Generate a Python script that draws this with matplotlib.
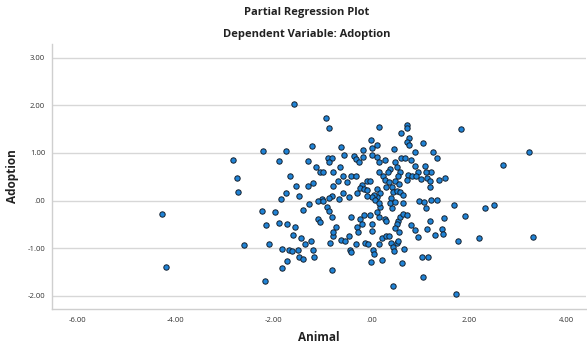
import matplotlib
matplotlib.use("Agg")
import matplotlib.pyplot as plt
from matplotlib.ticker import FixedLocator, FixedFormatter

# Partial regression residuals: Animal (x) vs Adoption (y)
animal = [
    -1.58, -2.22, -1.74, -2.82, -1.89, -2.75, -1.66, -2.73, -1.54, -1.75,
    -1.85, -1.48, -4.28, -2.24, -1.97, -2.16, -1.88, -1.72, -1.56, -1.60,
    -2.61, -2.09, -1.82, -1.69, -1.62, -1.50, -1.48, -1.72, -4.19, -1.82,
    -2.18,
    -0.93, -0.87, 0.16, 0.73, 0.72, 0.61, 0.78, 0.73, 0.78, 1.06,
    1.83, 0.00, 0.01, 0.12, -1.21, -0.61, -0.55, -0.17, 0.01, 0.46,
    0.89, 1.26, 1.34, -1.30, -1.13, -0.89, -0.81, -0.87, -0.78, -0.64,
    -1.04, -0.98, -1.20, -1.30, -0.57, -0.42, -0.31, -0.69, -0.78, -0.49,
    -0.36, -0.31, -0.26, -0.18, 0.12, 0.16, 0.28, 0.48, 0.61, 0.68,
    0.81, 0.52, 0.38, 0.15, 0.24, 0.35, 0.58, 0.76, 0.89, 1.10,
    1.23, 0.96, 1.11, 0.83, 0.91, 1.01, 1.13, 1.21, 1.39, 1.50,
    0.73, 0.55, 0.28, 0.37, 0.48, 0.56, 0.31, 0.42, 1.21, -0.08,
    -0.03, -0.20, -0.23, -0.15, -0.08, -0.29, -0.45, -0.57, -0.66, -0.80,
    -0.87, -1.01, -1.09, -0.98, 0.12, 0.18, 0.11, 0.05, 0.01, -0.08,
    0.07, 0.40, 0.45, 0.52, 0.58, 0.65, 1.23, 1.35,
    -1.28, -1.39, -0.90, -0.87, -0.42, -0.81, -1.09, -1.05, -0.23, -0.15,
    -0.03, -0.20, -0.30, 0.01, 0.16, 0.28, 0.31, 0.12, 0.18, 0.16,
    0.42, 0.55, 0.58, 0.65, 0.72, 0.53, 0.48, 0.56, 0.98, 1.08,
    1.11, 1.49, 1.69, 1.91, 2.32, 2.51, 1.20, 1.13, 1.45, 1.47,
    1.31, 0.96, 0.81, 0.90, 2.20, 3.31, 1.77, -1.44, -1.36, -1.24,
    -1.19, -1.17, -1.39, -0.81, -0.85, -0.79, -0.79, -0.73, -0.61, -0.54,
    -0.45, -0.44, -0.42, -0.31, -0.12, -0.06, -0.27, 0.01, 0.16, 0.03,
    0.06, -0.01, 0.22, 0.22, 0.29, 0.36, 0.40, 0.45, 0.52, 0.55,
    0.47, 0.67, 0.63, 1.03, 1.16, 1.06, 0.44, 1.74,
    0.38, 0.48, 0.65, 3.23, 2.69,
]
adoption = [
    2.03, 1.04, 1.04, 0.85, 0.84, 0.48, 0.51, 0.18, 0.31, 0.16,
    0.04, 0.09, -0.29, -0.22, -0.24, -0.52, -0.47, -0.49, -0.55, -0.72,
    -0.94, -0.91, -1.01, -1.05, -1.07, -1.05, -1.19, -1.27, -1.39, -1.41,
    -1.70,
    1.74, 1.52, 1.55, 1.59, 1.52, 1.41, 1.32, 1.24, 1.17, 1.21,
    1.50, 1.27, 1.11, 1.17, 1.15, 1.13, 0.96, 1.06, 0.96, 1.08,
    1.01, 1.02, 0.90, 0.83, 0.71, 0.90, 0.90, 0.81, 0.59, 0.70,
    0.60, 0.60, 0.37, 0.31, 0.51, 0.52, 0.52, 0.42, 0.31, 0.39,
    0.94, 0.88, 0.82, 0.92, 0.92, 0.80, 0.85, 0.80, 0.89, 0.89,
    0.85, 0.70, 0.67, 0.59, 0.52, 0.59, 0.61, 0.53, 0.73, 0.73,
    0.61, 0.61, 0.61, 0.52, 0.52, 0.45, 0.47, 0.42, 0.43, 0.48,
    0.44, 0.52, 0.43, 0.38, 0.40, 0.34, 0.29, 0.29, 0.28, 0.42,
    0.42, 0.33, 0.27, 0.25, 0.22, 0.16, 0.07, 0.16, 0.04, 0.10,
    0.06, 0.04, -0.01, -0.01, 0.24, 0.16, 0.08, 0.11, 0.08, 0.10,
    0.01, 0.05, 0.18, 0.21, 0.17, 0.12, 0.02, 0.02,
    -0.08, -0.20, -0.14, -0.23, -0.35, -0.35, -0.38, -0.45, -0.38, -0.30,
    -0.30, -0.49, -0.55, -0.49, -0.35, -0.39, -0.42, -0.25, -0.14, -0.05,
    -0.16, -0.42, -0.34, -0.28, -0.31, -0.49, -0.58, -0.67, -0.02, -0.04,
    -0.15, -0.36, -0.10, -0.32, -0.16, -0.10, -0.44, -0.60, -0.59, -0.71,
    -0.72, -0.76, -0.52, -0.61, -0.78, -0.77, -0.86, -0.79, -0.91, -0.86,
    -1.03, -1.18, -1.23, -1.45, -0.89, -0.74, -0.66, -0.55, -0.82, -0.86,
    -0.74, -1.03, -1.08, -0.92, -0.89, -0.92, -0.66, -0.65, -0.91, -1.03,
    -1.12, -1.30, -1.26, -0.79, -0.74, -0.74, -0.89, -0.97, -0.89, -0.86,
    -1.07, -1.02, -1.31, -1.19, -1.19, -1.61, -1.80, -1.97,
    -0.05, -0.04, -0.05, 1.03, 0.75,
]

x_ticks = [-6, -4, -2, 0, 2, 4]
x_tick_labels = ["-6.00", "-4.00", "-2.00", ".00", "2.00", "4.00"]
y_ticks = [-2, -1, 0, 1, 2, 3]
y_tick_labels = ["-2.00", "-1.00", ".00", "1.00", "2.00", "3.00"]

plt.rcParams["font.family"] = ["Open Sans", "DejaVu Sans"]

fig = plt.figure(figsize=(5.87, 3.49), dpi=100)
ax = fig.add_axes([52 / 587, 1 - 309 / 349, (586 - 52) / 587, (309 - 44) / 349])

ax.scatter(animal, adoption, s=15, facecolor="#1f83d6", edgecolor="#14202e",
           linewidths=0.7, zorder=3)

ax.set_xlim(-6.53, 4.39)
ax.set_ylim(-2.28, 3.29)

ax.xaxis.set_major_locator(FixedLocator(x_ticks))
ax.xaxis.set_major_formatter(FixedFormatter(x_tick_labels))
ax.yaxis.set_major_locator(FixedLocator(y_ticks))
ax.yaxis.set_major_formatter(FixedFormatter(y_tick_labels))
ax.tick_params(axis="both", length=0, labelsize=5.5, colors="#333333")
ax.tick_params(axis="x", pad=6)
ax.tick_params(axis="y", pad=5)

ax.grid(axis="y", color="#d7d7d7", linewidth=1.0, zorder=0)
ax.grid(axis="x", visible=False)
for side in ("top", "right"):
    ax.spines[side].set_visible(False)
for side in ("left", "bottom"):
    ax.spines[side].set_color("#cfcfcf")
    ax.spines[side].set_linewidth(1.0)

ax.set_xlabel("Animal", fontsize=8.5, fontweight="bold", color="#222222", labelpad=5)
ax.set_ylabel("Adoption", fontsize=8.5, fontweight="bold", color="#222222", labelpad=6)

fig.text(307 / 587, 1 - 13 / 349, "Partial Regression Plot", ha="center", va="center",
         fontsize=8, fontweight="bold", color="#222222")
fig.text(307 / 587, 1 - 35 / 349, "Dependent Variable: Adoption", ha="center",
         va="center", fontsize=8, fontweight="bold", color="#222222")

fig.savefig("out.png", dpi=100)
